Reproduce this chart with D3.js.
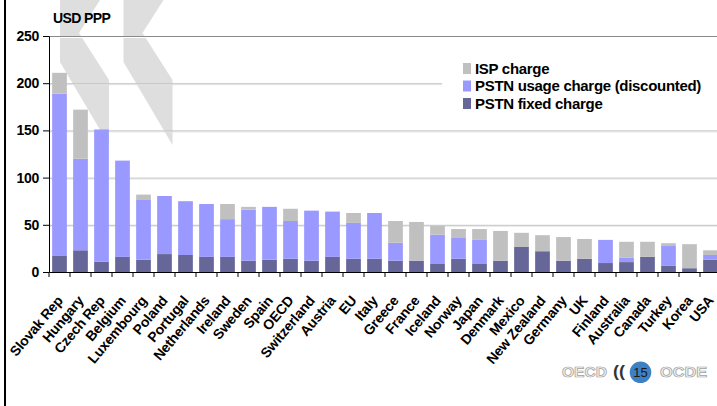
<!DOCTYPE html>
<html>
<head>
<meta charset="utf-8">
<script src="https://cdn.jsdelivr.net/npm/d3@7"></script>
<style>
  html, body { margin: 0; padding: 0; background: #fff; }
  svg { display: block; font-family: 'Liberation Sans', Arial, sans-serif; }
</style>
</head>
<body>
<div id="chart"></div>
<script>
// countries, in the order shown (sorted by total)
var countries = ['Slovak Rep', 'Hungary', 'Czech Rep', 'Belgium', 'Luxembourg', 'Poland',
  'Portugal', 'Netherlands', 'Ireland', 'Sweden', 'Spain', 'OECD', 'Switzerland', 'Austria',
  'EU', 'Italy', 'Greece', 'France', 'Iceland', 'Norway', 'Japan', 'Denmark', 'Mexico',
  'New Zealand', 'Germany', 'UK', 'Finland', 'Australia', 'Canada', 'Turkey', 'Korea', 'USA'];

// USD PPP
var pstnFixed = [17, 23, 11, 16, 13, 19, 18, 16, 16, 12, 13, 14, 12, 16,
  14, 14, 12, 12, 8.5, 14, 8.5, 12, 26.5, 22, 12, 14, 9.5, 10.5, 16, 6.5, 4, 13];
var pstnUsage = [172, 97, 140, 102, 64, 61.5, 57, 56, 40, 54, 56, 40, 53, 48,
  38, 48.5, 19, 0, 31, 22, 25.5, 0, 0, 0, 0, 0, 24.5, 4.5, 0, 21, 0, 5];
var ispCharge = [22, 52, 0, 0, 5, 0, 0, 0, 16, 3, 0, 13, 0, 0,
  10.5, 0, 23, 41, 9.5, 9.5, 11.5, 31.5, 15, 17, 25, 21, 0, 17, 16, 3, 25.5, 5];

var seriesKeys = ['fixed', 'usage', 'isp'];
var seriesNames = ['PSTN fixed charge', 'PSTN usage charge (discounted)', 'ISP charge'];
var seriesColors = ['#666699', '#9999ff', '#c0c0c0'];
var yTicks = [0, 50, 100, 150, 200, 250];

;(function (d3) {

  'use strict';

  var W = 717, H = 406;

  var svg = d3.select('#chart').append('svg')
    .attr('width', W)
    .attr('height', H);

  svg.append('rect').attr('width', W).attr('height', H).attr('fill', '#fff');

  // slide frame on the left
  svg.append('rect').attr('x', 4).attr('y', 0).attr('width', 2).attr('height', H).attr('fill', '#000');

  // background watermark (two chevrons)
  var chevron = [[0, 0], [40, 0], [19, 33], [49, 80], [49, 145], [0, 62]];
  [60, 123.5].forEach(function (dx) {
    svg.append('polygon')
      .attr('points', chevron.map(function (p) { return (p[0] + dx) + ',' + p[1]; }).join(' '))
      .attr('fill', '#dedede');
  });

  var x = d3.scaleBand()
    .domain(countries)
    .range([49, 721])
    .paddingInner(0.3)
    .paddingOuter(0.15);

  var y = d3.scaleLinear()
    .domain([0, 250])
    .range([272, 36]);

  // gridlines
  var grid = svg.append('g');
  yTicks.filter(function (v) { return v > 0; }).forEach(function (v) {
    grid.append('line')
      .attr('x1', 49).attr('x2', W)
      .attr('y1', y(v) + 1.5).attr('y2', y(v) + 1.5)
      .attr('stroke', v === 250 ? '#fff' : '#e6e6e6');
    grid.append('line')
      .attr('x1', 49).attr('x2', W)
      .attr('y1', y(v) + 0.5).attr('y2', y(v) + 0.5)
      .attr('stroke', v === 250 ? '#8a8a8a' : '#c4c4c4');
  });

  var rows = countries.map(function (c, i) {
    return { country: c, fixed: pstnFixed[i], usage: pstnUsage[i], isp: ispCharge[i] };
  });

  var stacked = d3.stack().keys(seriesKeys)(rows);

  svg.append('g')
    .selectAll('g')
    .data(stacked)
    .join('g')
      .attr('fill', function (d, i) { return seriesColors[i]; })
    .selectAll('rect')
    .data(function (d) { return d; })
    .join('rect')
      .attr('x', function (d) { return x(d.data.country); })
      .attr('width', x.bandwidth())
      .attr('y', function (d) { return y(d[1]); })
      .attr('height', function (d) { return y(d[0]) - y(d[1]); });

  // y axis
  var yAxis = svg.append('g')
    .attr('transform', 'translate(49,0)')
    .call(d3.axisLeft(y).tickValues(yTicks).tickSize(6).tickSizeOuter(0).tickPadding(4));
  yAxis.select('.domain').attr('stroke', '#000');
  yAxis.selectAll('.tick line').attr('stroke', '#000');
  yAxis.selectAll('.tick text')
    .attr('fill', '#000')
    .style('font-size', '14px')
    .style('font-weight', 'bold')
    .style('letter-spacing', '-0.3px');

  // x axis: ticks sit on the band boundaries
  var step = x.step();
  var xAxis = svg.append('g')
    .attr('transform', 'translate(0,272)')
    .call(d3.axisBottom(x).tickSize(5).tickSizeOuter(0));
  xAxis.select('.domain').attr('stroke', '#000');
  xAxis.selectAll('.tick line')
    .attr('stroke', '#000')
    .attr('x1', -step / 2).attr('x2', -step / 2);
  xAxis.selectAll('.tick text')
    .attr('fill', '#000')
    .attr('x', 0).attr('y', 0).attr('dy', null)
    .attr('text-anchor', 'end')
    .attr('transform', 'translate(4,29) rotate(-50)')
    .style('font-size', '14px')
    .style('font-weight', 'bold')
    .style('letter-spacing', '-0.2px');

  svg.append('text')
    .attr('x', 53).attr('y', 23)
    .style('font-size', '14px')
    .style('font-weight', 'bold')
    .style('letter-spacing', '-0.6px')
    .text('USD PPP');

  // legend
  var legend = svg.append('g');
  legend.append('rect')
    .attr('x', 442).attr('y', 46).attr('width', W - 442).attr('height', 72)
    .attr('fill', '#fff');
  var items = legend.selectAll('g.item')
    .data([2, 1, 0])
    .join('g')
      .attr('class', 'item')
      .attr('transform', function (d, i) { return 'translate(463,' + (63 + i * 17.5) + ')'; });
  items.append('rect')
    .attr('width', 8).attr('height', 11)
    .attr('fill', function (d) { return seriesColors[d]; });
  items.append('text')
    .attr('x', 12).attr('y', 10.5)
    .style('font-size', '15px')
    .style('font-weight', 'bold')
    .style('letter-spacing', '-0.3px')
    .text(function (d) { return seriesNames[d]; });

  // page logo
  var logo = svg.append('g').style('font-weight', 'bold');
  logo.append('text')
    .attr('x', 562).attr('y', 377)
    .attr('textLength', 45).attr('lengthAdjust', 'spacingAndGlyphs')
    .attr('fill', '#f4f4f4').attr('stroke', '#a0a0a0').attr('stroke-width', 0.7)
    .style('font-size', '14px')
    .text('OECD');
  logo.append('text')
    .attr('x', 613).attr('y', 377)
    .attr('textLength', 12).attr('lengthAdjust', 'spacingAndGlyphs')
    .attr('fill', '#333')
    .style('font-size', '16px')
    .text('((');
  logo.append('circle')
    .attr('cx', 640.5).attr('cy', 372.3).attr('r', 10.8)
    .attr('fill', '#3d80c3');
  logo.append('text')
    .attr('x', 640.5).attr('y', 377)
    .attr('text-anchor', 'middle')
    .attr('fill', '#1a1a1a')
    .style('font-size', '13px')
    .style('font-weight', 'normal')
    .text('15');
  logo.append('text')
    .attr('x', 660).attr('y', 377)
    .attr('textLength', 47).attr('lengthAdjust', 'spacingAndGlyphs')
    .attr('fill', '#f4f4f4').attr('stroke', '#a0a0a0').attr('stroke-width', 0.7)
    .style('font-size', '14px')
    .text('OCDE');

})(d3);
</script>
</body>
</html>
